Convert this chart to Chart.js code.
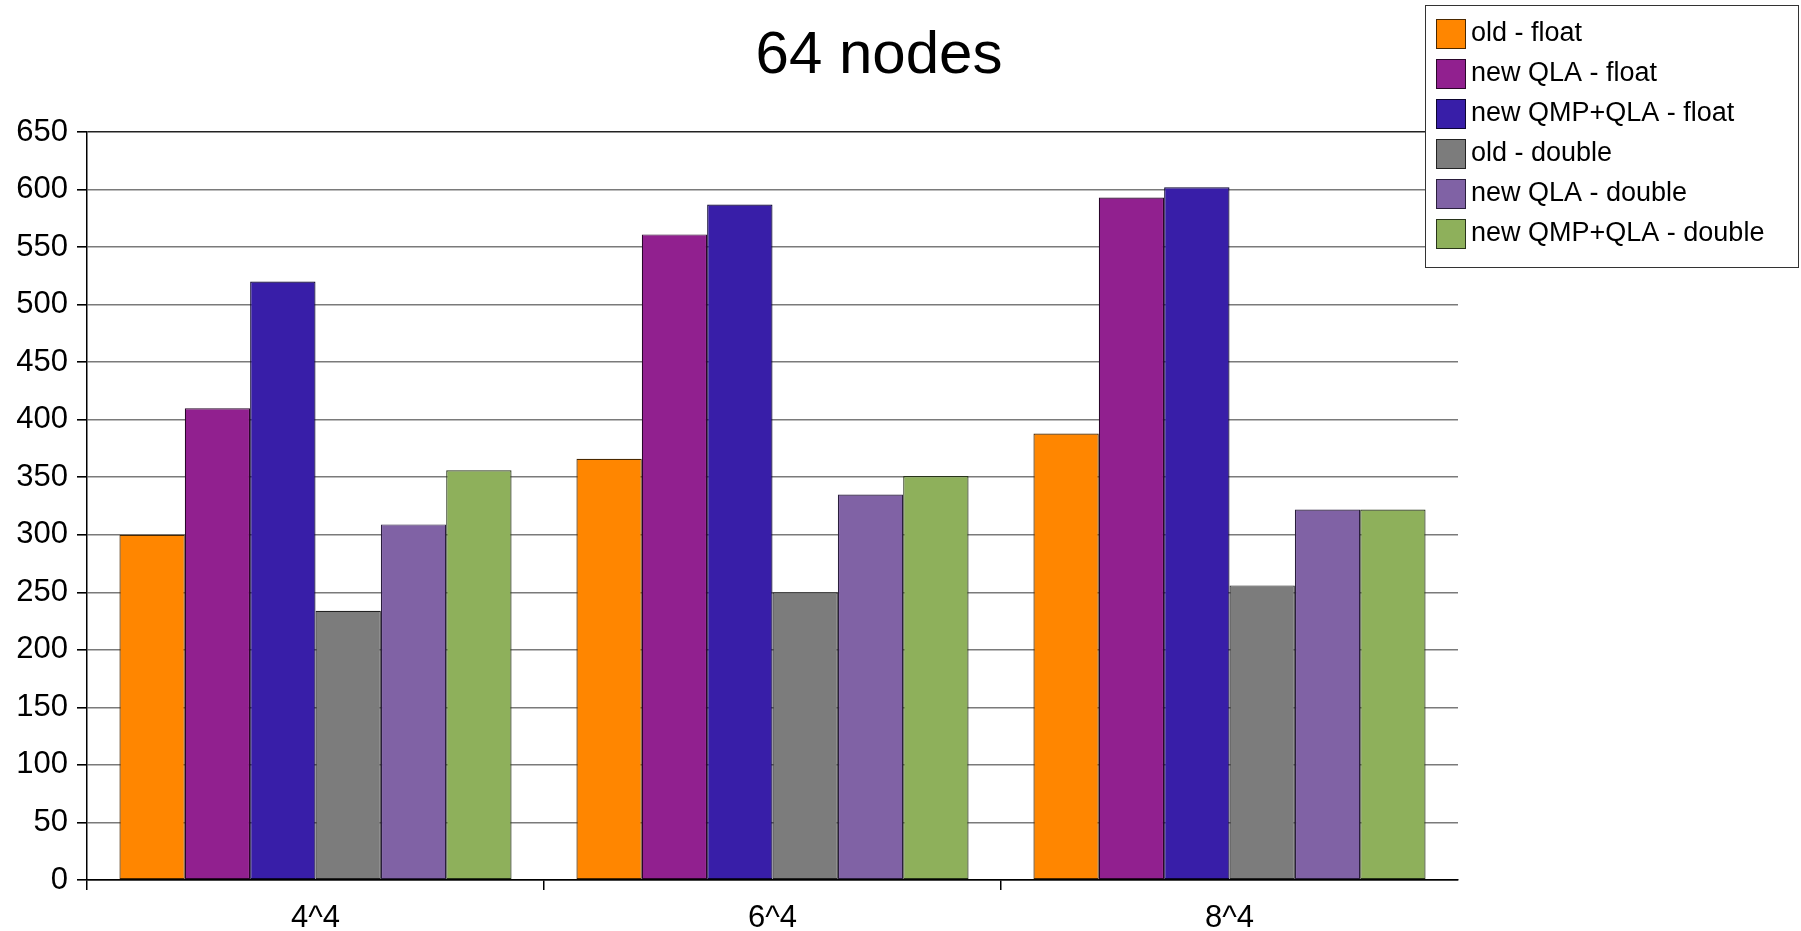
<!DOCTYPE html>
<html>
<head>
<meta charset="utf-8">
<title>64 nodes</title>
<script src="https://cdn.jsdelivr.net/npm/chart.js@4.4.1/dist/chart.umd.min.js"></script>
<style>
  html, body { margin: 0; padding: 0; background: #fff; }
  #chart { display: block; }
</style>
</head>
<body>
<canvas id="chart" width="1801" height="931"></canvas>
<script>
// Lattice sizes on the x axis
const categories = ['4^4', '6^4', '8^4'];

const seriesNames = [
  'old - float',
  'new QLA - float',
  'new QMP+QLA - float',
  'old - double',
  'new QLA - double',
  'new QMP+QLA - double'
];

const oldFloat = [300, 366, 388];
const qlaFloat = [410, 561, 593];
const qmpQlaFloat = [520, 587, 602];
const oldDouble = [234, 250, 256];
const qlaDouble = [309, 335, 322];
const qmpQlaDouble = [356, 351, 322];

const yTicks = [0, 50, 100, 150, 200, 250, 300, 350, 400, 450, 500, 550, 600, 650];

const fillColors = ['#ff8600', '#91208f', '#381ea8', '#7c7c7c', '#8062a5', '#8eb05b'];
const edgeColors = ['#4a2800', '#2a062a', '#0c0530', '#222222', '#2a1e3c', '#28341a'];

const FONT = '"Liberation Sans", Arial, sans-serif';

// title drawn over the chart, a bit right of the plot centre
const titlePlugin = {
  id: 'titleText',
  afterDraw(chart) {
    const ctx = chart.ctx;
    ctx.save();
    ctx.fillStyle = '#000';
    ctx.font = `60px ${FONT}`;
    ctx.textAlign = 'center';
    ctx.textBaseline = 'middle';
    ctx.fillText('64 nodes', 879, 56);
    ctx.restore();
  }
};

// boxed legend in the top right corner, over the plot
const boxLegend = {
  id: 'boxLegend',
  afterDraw(chart) {
    const ctx = chart.ctx;
    const x = 1425, y = 5, w = 373, h = 262;
    ctx.save();
    ctx.fillStyle = '#fff';
    ctx.fillRect(x, y, w, h);
    ctx.strokeStyle = '#333';
    ctx.lineWidth = 1;
    ctx.strokeRect(x + 0.5, y + 0.5, w, h);
    ctx.font = `27px ${FONT}`;
    ctx.textBaseline = 'middle';
    chart.data.datasets.forEach((ds, i) => {
      const sy = 19 + i * 40;
      ctx.fillStyle = ds.backgroundColor;
      ctx.fillRect(1436, sy, 30, 30);
      ctx.strokeStyle = ds.borderColor;
      ctx.strokeRect(1436.5, sy + 0.5, 29, 29);
      ctx.fillStyle = '#000';
      ctx.fillText(ds.label, 1471, sy + 15);
    });
    ctx.restore();
  }
};

const seriesValues = [oldFloat, qlaFloat, qmpQlaFloat, oldDouble, qlaDouble, qmpQlaDouble];

new Chart(document.getElementById('chart'), {
  type: 'bar',
  data: {
    labels: categories,
    datasets: seriesNames.map((name, i) => ({
      label: name,
      data: seriesValues[i],
      backgroundColor: fillColors[i],
      borderColor: edgeColors[i],
      borderWidth: 1.2,
      borderSkipped: false,
      categoryPercentage: 0.858,
      barPercentage: 1
    }))
  },
  options: {
    responsive: false,
    animation: false,
    layout: {
      padding: { top: 132, right: 343, left: 0, bottom: 0 }
    },
    plugins: {
      legend: { display: false },
      title: { display: false },
      tooltip: { enabled: false }
    },
    scales: {
      x: {
        afterFit: (scale) => { scale.height = 51; },
        grid: {
          offset: true,
          drawOnChartArea: false,
          color: '#000',
          tickLength: 10,
          // no tick mark after the last category
          lineWidth: (c) => (c.tick ? 1.5 : 0)
        },
        border: { display: true, color: '#000', width: 1.5 },
        ticks: {
          color: '#000',
          padding: 10,
          font: { family: FONT, size: 31 }
        }
      },
      y: {
        min: 0,
        max: 650,
        afterFit: (scale) => { scale.width = 87; },
        afterBuildTicks: (scale) => {
          scale.ticks = yTicks.map((v) => ({ value: v }));
        },
        grid: {
          color: (c) => (c.tick && (c.tick.value === 0 || c.tick.value === 650) ? '#222' : '#7a7a7a'),
          lineWidth: 1.6,
          tickLength: 10,
          tickColor: '#000'
        },
        border: { display: true, color: '#000', width: 1.5 },
        ticks: {
          color: '#000',
          padding: 9,
          font: { family: FONT, size: 31 }
        }
      }
    }
  },
  plugins: [titlePlugin, boxLegend]
});
</script>
</body>
</html>
